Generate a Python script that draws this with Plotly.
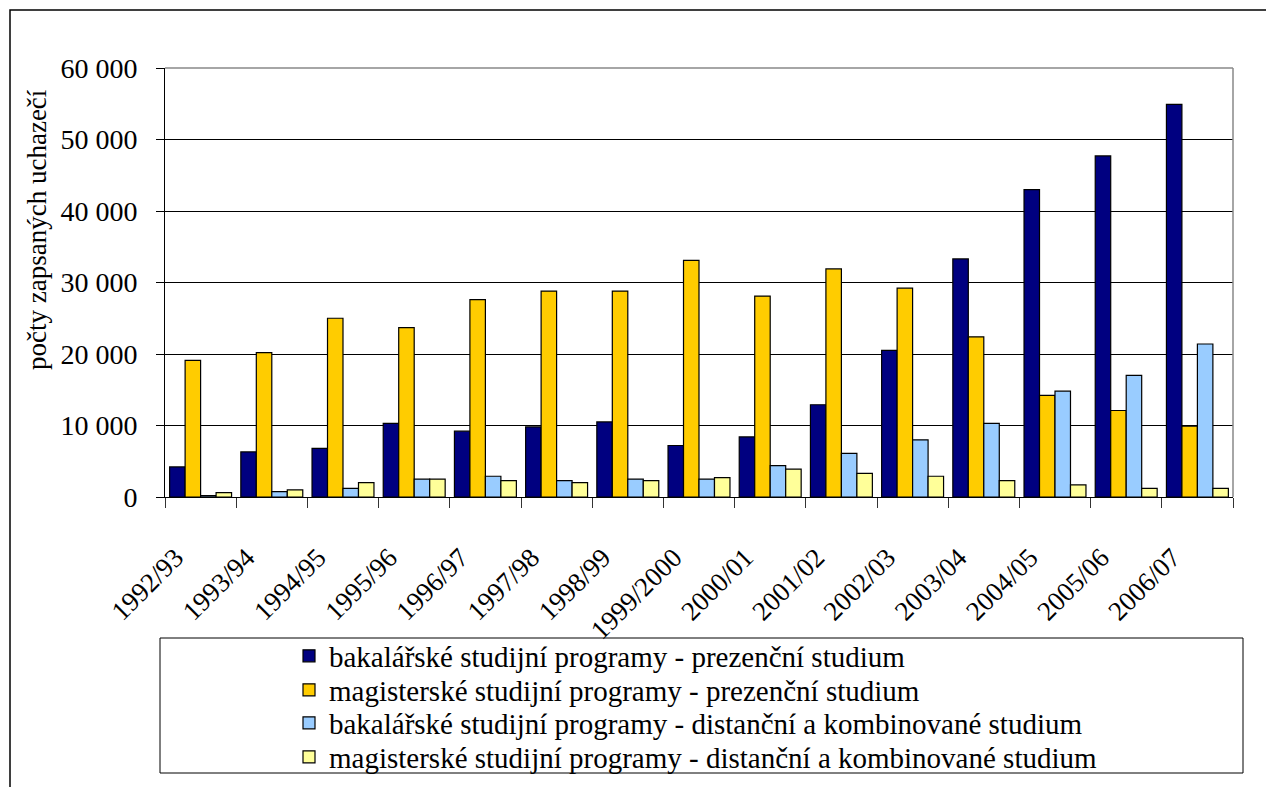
import plotly.graph_objects as go

categories = ["1992/93", "1993/94", "1994/95", "1995/96", "1996/97", "1997/98", "1998/99",
              "1999/2000", "2000/01", "2001/02", "2002/03", "2003/04", "2004/05", "2005/06", "2006/07"]
bak_prezencni = [4200, 6300, 6800, 10300, 9200, 9800, 10500, 7200, 8400, 12900, 20500, 33300, 43000, 47700, 54900]
mag_prezencni = [19100, 20200, 25000, 23700, 27600, 28800, 28800, 33100, 28100, 31900, 29200, 22400, 14200, 12100, 9900]
bak_distancni = [200, 750, 1200, 2500, 2900, 2300, 2500, 2500, 4400, 6100, 8000, 10300, 14800, 17000, 21400]
mag_distancni = [600, 1000, 2000, 2500, 2300, 2000, 2300, 2700, 3900, 3300, 2900, 2300, 1700, 1200, 1200]

series_names = [
    "bakalářské studijní programy - prezenční studium",
    "magisterské studijní programy - prezenční studium",
    "bakalářské studijní programy - distanční a kombinované studium",
    "magisterské studijní programy - distanční a kombinované studium",
]
series_values = [bak_prezencni, mag_prezencni, bak_distancni, mag_distancni]
colors = ["#000080", "#FFCC00", "#99CCFF", "#FFFF99"]
legend_ids = ["legend", "legend2", "legend3", "legend4"]

FONT = "Liberation Serif"
FS = 27

W, H = 1266, 787
L, R, T, B = 165, 1233, 68, 497
pw, ph = R - L, B - T

def px(x):
    return (x - L) / pw

def py(y):
    return (B - y) / ph

fig = go.Figure()
for name, vals, col, lg in zip(series_names, series_values, colors, legend_ids):
    fig.add_trace(go.Bar(
        x=categories, y=vals, name=name, legend=lg,
        marker=dict(color=col, line=dict(color="black", width=1.2)),
    ))

legend_rows = [656, 690, 723, 757]
legend_common = dict(
    x=px(289), xanchor="left", yanchor="middle",
    orientation="v", bgcolor="rgba(0,0,0,0)",
    font=dict(family=FONT, size=29, color="black"),
    itemwidth=30,
)

fig.update_layout(
    width=W, height=H,
    margin=dict(l=L, r=W - R, t=T, b=H - B, autoexpand=False),
    paper_bgcolor="white", plot_bgcolor="white",
    barmode="group", bargap=0.13, bargroupgap=0,
    separators=", ",
    font=dict(family=FONT, size=FS, color="black"),
    showlegend=True,
    legend=dict(y=py(legend_rows[0]), **legend_common),
    legend2=dict(y=py(legend_rows[1]), **legend_common),
    legend3=dict(y=py(legend_rows[2]), **legend_common),
    legend4=dict(y=py(legend_rows[3]), **legend_common),
    xaxis=dict(
        type="category", tickangle=-45, tickson="boundaries",
        ticks="outside", ticklen=10, tickcolor="#333333",
        showline=True, linecolor="black", linewidth=1,
        showgrid=False, ticklabelstandoff=33, ticklabelshift=-25,
        tickfont=dict(family=FONT, size=FS, color="black"),
    ),
    yaxis=dict(
        range=[0, 60000], dtick=10000, tickformat=",d",
        ticks="outside", ticklen=8, tickcolor="black",
        showline=True, linecolor="black", linewidth=1,
        showgrid=True, gridcolor="black", gridwidth=1,
        ticklabelstandoff=13,
        tickfont=dict(family=FONT, size=FS + 1, color="black"),
        zeroline=False,
    ),
    shapes=[
        dict(type="rect", xref="paper", yref="paper",
             x0=px(10), y0=py(800), x1=px(1280), y1=py(10),
             line=dict(color="black", width=1.5), layer="below"),
        dict(type="line", xref="paper", yref="paper",
             x0=0, y0=1, x1=1, y1=1, line=dict(color="#888888", width=1.5)),
        dict(type="line", xref="paper", yref="paper",
             x0=1, y0=0, x1=1, y1=1, line=dict(color="#888888", width=1.5)),
        dict(type="rect", xref="paper", yref="paper",
             x0=px(160), y0=py(773), x1=px(1243), y1=py(638),
             line=dict(color="black", width=1)),
    ],
    annotations=[
        dict(text="počty zapsaných uchazečí", xref="paper", yref="paper",
             x=px(37), y=py(230), xanchor="center", yanchor="middle",
             textangle=-90, showarrow=False,
             font=dict(family=FONT, size=FS, color="black")),
    ],
)

fig.write_html("out.html", config={"displayModeBar": False},
               post_script="document.body.style.margin='0';")
